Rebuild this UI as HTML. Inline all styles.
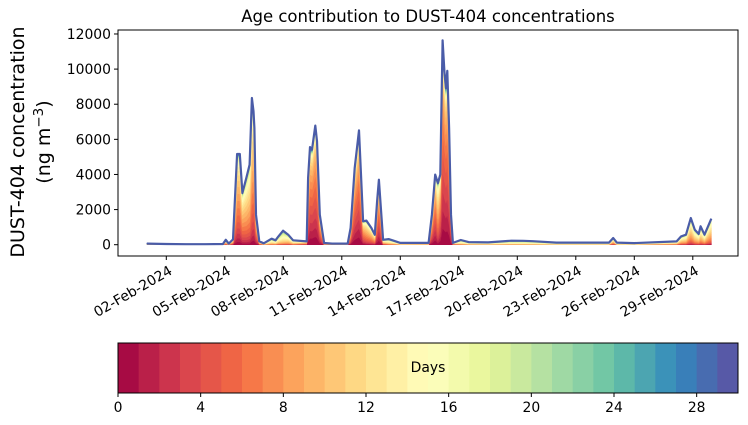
<!DOCTYPE html>
<html><head><meta charset="utf-8"><style>
html,body{margin:0;padding:0;background:#fff;}
svg{display:block;font-family:"DejaVu Sans","Liberation Sans",sans-serif;}
</style></head><body>
<svg id="chart" width="748" height="425" viewBox="0 0 748 425">
<g id="plot"></g>
<g id="axes"></g>
<g id="cbar"></g>
</svg>
<script>
// ---- data (t = days since 01-Feb-2024 00:00) ----
const times = [0,1,2,3,3.9,4.05,4.2,4.42,4.63,4.77,4.9,5.1,5.27,5.39,5.47,5.52,5.6,5.77,6.0,6.4,6.6,6.75,6.99,7.25,7.5,8.2,8.27,8.37,8.47,8.64,8.73,8.87,9.09,9.5,10.3,10.45,10.66,10.88,10.97,11.09,11.26,11.52,11.69,11.81,11.9,11.98,12.12,12.4,12.6,13,14.45,14.62,14.79,14.93,15.05,15.17,15.26,15.34,15.41,15.5,15.6,15.7,16.1,16.5,17.5,18.7,19.3,19.8,21,23.7,23.92,24.1,25,27.17,27.4,27.65,27.9,28.1,28.3,28.4,28.6,28.95];
const totals = [60,40,30,30,40,280,60,300,5165,5165,2944,3800,4556,8354,7600,6646,1709,190,80,340,250,470,800,570,250,190,3800,5560,5410,6780,5900,1709,95,60,60,950,4370,6510,4370,1330,1370,950,570,2470,3700,2470,280,320,250,100,100,1709,3990,3510,3990,11640,9870,8920,9900,6650,1709,100,270,150,130,230,220,200,120,120,380,120,90,190,470,570,1520,850,610,1050,570,1480];
const meanAge = [12,12,12,12,12,10,12,8,7,7,8,9,9,8,7,7,6,9,12,13,13,13,14,12,12,8,5,4,4,4,4,5,10,12,12,6,4,4,4,6,8,8,8,5,4,5,10,13,13,13,12,5,4,8,5,3,3,3,3,3,4,8,14,14,14,15,15,15,15,15,10,15,15,12,11,11,10,11,11,11,11,10];
const yTicks = [0,2000,4000,6000,8000,10000,12000];
const xTickDays = [1,4,7,10,13,16,19,22,25,28];
const xTickLabels = ["02-Feb-2024","05-Feb-2024","08-Feb-2024","11-Feb-2024","14-Feb-2024","17-Feb-2024","20-Feb-2024","23-Feb-2024","26-Feb-2024","29-Feb-2024"];
const cbTicks = [0,4,8,12,16,20,24,28];
const nAges = 30;

const NS="http://www.w3.org/2000/svg";
const L=118,R=738,T=30,B=256;
const X=t=>146.8+19.5*t;
const Y=v=>244.7-v*0.01756;
function mk(tag,attrs,parent){const e=document.createElementNS(NS,tag);for(const k in attrs)e.setAttribute(k,attrs[k]);parent.appendChild(e);return e;}

const spec=["#9e0142","#d53e4f","#f46d43","#fdae61","#fee08b","#ffffbf","#e6f598","#abdda4","#66c2a5","#3288bd","#5e4fa2"];
function hex(c){return [1,3,5].map(i=>parseInt(c.substr(i,2),16));}
function cmap(f){const p=f*10,i=Math.min(9,Math.floor(p)),r=p-i;const a=hex(spec[i]),b=hex(spec[i+1]);return "rgb("+a.map((v,k)=>Math.round(v+(b[k]-v)*r)).join(",")+")";}
const ageColor=k=>cmap((k+0.5)/nAges);

function fractions(m){const w=[];let s=0;for(let k=0;k<nAges;k++){const d=(k-m)/5;const v=Math.exp(-d*d/2)+0.04;w.push(v);s+=v;}return w.map(v=>v/s);}
const plot=document.getElementById('plot');
const fr=meanAge.map(fractions);
let lower=times.map(()=>0);
for(let k=0;k<nAges;k++){
  const upper=lower.map((v,i)=>v+totals[i]*fr[i][k]);
  let pts=times.map((t,i)=>X(t).toFixed(1)+","+Y(upper[i]).toFixed(1));
  for(let i=times.length-1;i>=0;i--)pts.push(X(times[i]).toFixed(1)+","+Y(lower[i]).toFixed(1));
  const p=mk('polygon',{points:pts.join(" "),fill:ageColor(k),stroke:ageColor(k),'stroke-width':0.6},plot);
  
  
  lower=upper;
}
const line=mk('polyline',{points:times.map((t,i)=>X(t).toFixed(1)+","+Y(totals[i]).toFixed(1)).join(" "),fill:"none",stroke:"#4a5ca8",'stroke-width':2.2,'stroke-linejoin':'round'},plot);



const ax=document.getElementById('axes');
const frame=mk('rect',{x:L,y:T,width:R-L,height:B-T,fill:"none",stroke:"#000",'stroke-width':1},ax);


yTicks.forEach(v=>{
  mk('line',{x1:L-4,x2:L,y1:Y(v),y2:Y(v),stroke:"#000"},ax);
  const t=mk('text',{x:L-7,y:Y(v)+5,'text-anchor':'end','font-size':13.9},ax);
  t.textContent=v;
  
  
});
xTickDays.forEach((d,i)=>{
  const x=X(d);
  mk('line',{x1:x,x2:x,y1:B,y2:B+4,stroke:"#000"},ax);
  const t=mk('text',{x:x+2,y:B+9,'text-anchor':'end','font-size':13.9,transform:"rotate(-30 "+(x+2)+" "+(B+9)+")",dy:"0.7em"},ax);
  t.textContent=xTickLabels[i];
  
  
});
const title=mk('text',{x:428,y:22,'text-anchor':'middle','font-size':16.5},ax);
title.textContent="Age contribution to DUST-404 concentrations";


const yl=mk('text',{x:0,y:0,'text-anchor':'middle','font-size':19,transform:"translate(24,142) rotate(-90)"},ax);
yl.textContent="DUST-404 concentration";


const yl2=mk('text',{x:0,y:0,'text-anchor':'middle','font-size':19,transform:"translate(50,142) rotate(-90)"},ax);
yl2.innerHTML='(ng m<tspan dy="-7" font-size="13.5">−3</tspan><tspan dy="7">)</tspan>';



const cb=document.getElementById('cbar');
const cL=118,cR=738,cT=343,cB=393,cw=(cR-cL)/nAges;
for(let k=0;k<nAges;k++){
  const r=mk('rect',{x:cL+k*cw,y:cT,width:cw+0.5,height:cB-cT,fill:ageColor(k)},cb);
  
  
}
mk('rect',{x:cL,y:cT,width:cR-cL,height:cB-cT,fill:"none",stroke:"#000"},cb);
cbTicks.forEach(v=>{
  const x=cL+v*cw;
  mk('line',{x1:x,x2:x,y1:cB,y2:cB+4,stroke:"#000"},cb);
  const t=mk('text',{x:x,y:cB+19,'text-anchor':'middle','font-size':13.9},cb);
  t.textContent=v;
  
  
});
const dl=mk('text',{x:428,y:372,'text-anchor':'middle','font-size':13.9},cb);
dl.textContent="Days";


</script>
</body></html>
